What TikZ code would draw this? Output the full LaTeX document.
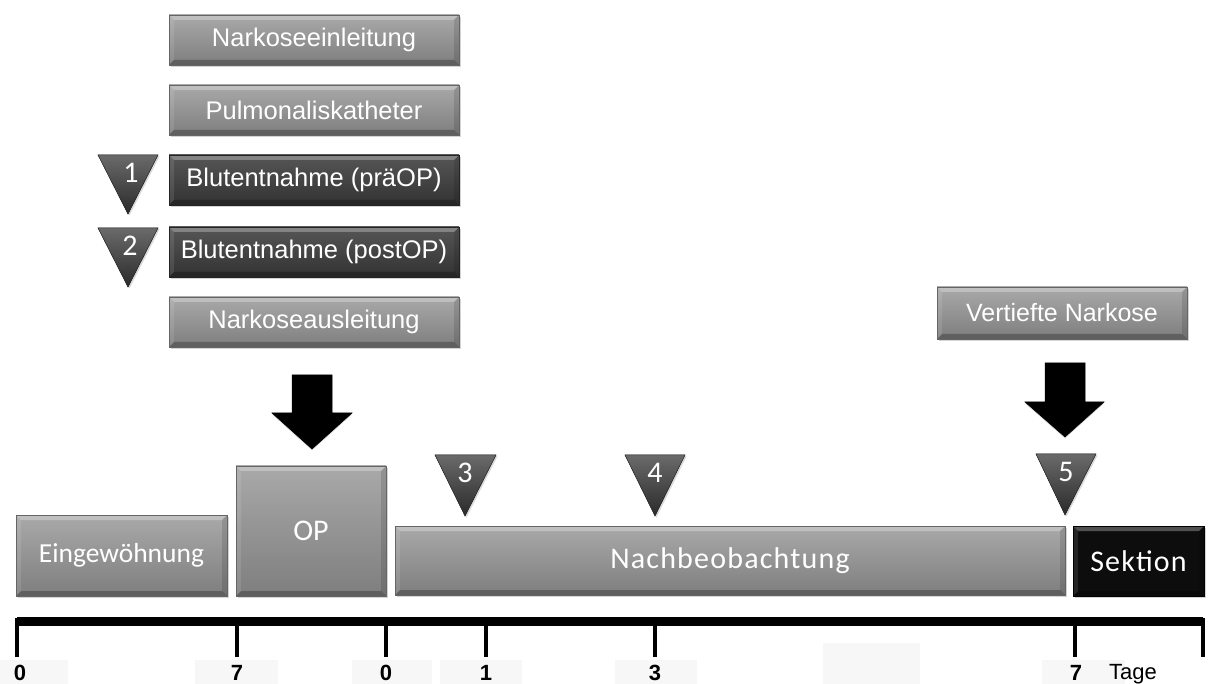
\documentclass[tikz,border=0pt]{standalone}
\usepackage{fontspec}
\setmainfont{Liberation Sans}
\newfontfamily\carfam{Carlito}
\newfontfamily\carspfam[LetterSpace=4]{Carlito}
\usetikzlibrary{shadows}
\definecolor{lgtop}{HTML}{A9A9A9}
\definecolor{lgbot}{HTML}{7E7E7E}
\definecolor{dgtop}{HTML}{565656}
\definecolor{dgbot}{HTML}{323232}
\definecolor{trtop}{HTML}{6A6A6A}
\definecolor{trbot}{HTML}{2A2A2A}
\definecolor{labbg}{HTML}{F7F7F7}
\tikzset{
  bevel/.style={path picture={
    \fill[white,opacity=0.28] (path picture bounding box.north west) -- (path picture bounding box.north east)
      -- ([xshift=-5pt,yshift=-5pt]path picture bounding box.north east) -- ([xshift=5pt,yshift=-5pt]path picture bounding box.north west) -- cycle;
    \fill[black,opacity=0.25] (path picture bounding box.south west) -- (path picture bounding box.south east)
      -- ([xshift=-5pt,yshift=5pt]path picture bounding box.south east) -- ([xshift=5pt,yshift=5pt]path picture bounding box.south west) -- cycle;
    \fill[black,opacity=0.12] (path picture bounding box.north east) -- (path picture bounding box.south east)
      -- ([xshift=-5pt,yshift=5pt]path picture bounding box.south east) -- ([xshift=-5pt,yshift=-5pt]path picture bounding box.north east) -- cycle;
    \fill[white,opacity=0.10] (path picture bounding box.north west) -- (path picture bounding box.south west)
      -- ([xshift=5pt,yshift=5pt]path picture bounding box.south west) -- ([xshift=5pt,yshift=-5pt]path picture bounding box.north west) -- cycle;
  }},
  boxbase/.style={rectangle, inner sep=0pt, text=white, bevel,
    drop shadow={shadow xshift=2pt, shadow yshift=-2pt, opacity=0.35}},
  lbox/.style={boxbase, top color=lgtop, bottom color=lgbot, draw=lgbot!80!black, line width=0.6pt},
  dbox/.style={boxbase, top color=dgtop, bottom color=dgbot, draw=dgbot!70!black, line width=0.6pt},
  kbox/.style={boxbase, fill=black!95, draw=black, line width=0.6pt},
  topfont/.style={font=\fontsize{25.5}{28}\selectfont},
  tri/.style={top color=trtop, bottom color=trbot, draw=trbot, line width=0.5pt,
    drop shadow={shadow xshift=1.5pt, shadow yshift=-1.5pt, opacity=0.3}},
  trinum/.style={text=white, font=\carfam\fontsize{30}{32}\selectfont, inner sep=0pt},
  bigarrow/.style={fill=black, draw=black, line width=0.5pt,
    drop shadow={shadow xshift=0pt, shadow yshift=-1.5pt, opacity=0.3}},
  axis/.style={line width=9pt, black},
  tick/.style={line width=3.5pt, black},
  ticklab/.style={font=\bfseries\fontsize{22}{26}\selectfont, inner sep=0pt, anchor=base},
  labrect/.style={fill=labbg, draw=none},
}
\begin{document}
\begin{tikzpicture}[x=1pt,y=-1pt]
\useasboundingbox (0,0) rectangle (1208,684);

% faint label backgrounds
\fill[labrect] (0,660) rectangle (68,684);
\fill[labrect] (195,660) rectangle (278,684);
\fill[labrect] (352,660) rectangle (432,684);
\fill[labrect] (440,660) rectangle (522,684);
\fill[labrect] (615,660) rectangle (697,684);
\fill[labrect] (823,643) rectangle (920,684);
\fill[labrect] (1042,660) rectangle (1125,684);

% top stack
\node[lbox, topfont, minimum width=290pt, minimum height=50pt] (n1) at (314,40) {Narkoseeinleitung};
\node[lbox, topfont, minimum width=290pt, minimum height=50pt] (n2) at (314,110) {Pulmonaliskatheter};
\node[dbox, topfont, minimum width=290pt, minimum height=50pt] (n3) at (314,180) {Blutentnahme (präOP)};
\node[dbox, topfont, minimum width=290pt, minimum height=50pt] (n4) at (314,252) {Blutentnahme (postOP)};
\node[lbox, topfont, minimum width=290pt, minimum height=50pt] (n5) at (314,322) {Narkoseausleitung};
\node[lbox, font=\fontsize{25}{28}\selectfont, minimum width=250pt, minimum height=52pt] (vn) at (1062,313) {Vertiefte Narkose};

% triangles
\coordinate (t1a) at (98,155); \coordinate (t1b) at (158,155); \coordinate (t1c) at (128,214);
\filldraw[tri] (t1a) -- (t1b) -- (t1c) -- cycle;
\node[trinum] (m1) at (131,173) {1};
\coordinate (t2a) at (98,228); \coordinate (t2b) at (158,228); \coordinate (t2c) at (128,287);
\filldraw[tri] (t2a) -- (t2b) -- (t2c) -- cycle;
\node[trinum] (m2) at (130,246) {2};
\coordinate (t3a) at (435,455); \coordinate (t3b) at (496,455); \coordinate (t3c) at (465,516);
\filldraw[tri] (t3a) -- (t3b) -- (t3c) -- cycle;
\node[trinum] (m3) at (465,473) {3};
\coordinate (t4a) at (625,455); \coordinate (t4b) at (685,455); \coordinate (t4c) at (655,516);
\filldraw[tri] (t4a) -- (t4b) -- (t4c) -- cycle;
\node[trinum] (m4) at (655,473) {4};
\coordinate (t5a) at (1036,454); \coordinate (t5b) at (1096,454); \coordinate (t5c) at (1065,515);
\filldraw[tri] (t5a) -- (t5b) -- (t5c) -- cycle;
\node[trinum] (m5) at (1066,472) {5};

% big arrows
\filldraw[bigarrow] (292,375) -- (332,375) -- (332,413) -- (352,413) -- (312,449) -- (272,413) -- (292,413) -- cycle;
\filldraw[bigarrow] (1045,363) -- (1085,363) -- (1085,402) -- (1104,402) -- (1065,437) -- (1025,402) -- (1045,402) -- cycle;

% phase boxes
\node[lbox, font=\carfam\fontsize{27.5}{30}\selectfont, minimum width=211pt, minimum height=81pt] (eg) at (121.5,555.5) {Eingewöhnung};
\node[lbox, font=\carfam\fontsize{30}{32}\selectfont, minimum width=150pt, minimum height=130pt] (op) at (311,531) {OP};
\node[lbox, font=\carspfam\fontsize{30}{32}\selectfont, minimum width=670pt, minimum height=69pt] (nb) at (730,560.5) {Nachbeobachtung};
\node[kbox, font=\carspfam\fontsize{30}{32}\selectfont, minimum width=131pt, minimum height=70pt] (sk) at (1138.5,561) {Sektion};

% timeline
\coordinate (a0) at (17,621); \coordinate (a1) at (1203,621);
\draw[axis] (a0) -- (a1);
\foreach \x/\nm in {17/k0,237/k1,386/k2,486/k3,655/k4,1075/k5,1203/k6}{
  \coordinate (\nm top) at (\x,618);
  \coordinate (\nm bot) at (\x,657);
  \draw[tick] (\nm top) -- (\nm bot);
}
\node[ticklab] (l0) at (20,680) {0};
\node[ticklab] (l1) at (237,680) {7};
\node[ticklab] (l2) at (386,680) {0};
\node[ticklab] (l3) at (486,680) {1};
\node[ticklab] (l4) at (655,680) {3};
\node[ticklab] (l5) at (1076,680) {7};
\node[font=\fontsize{22}{26}\selectfont, inner sep=0pt, anchor=base] (tg) at (1133,679) {Tage};
\end{tikzpicture}
\end{document}
